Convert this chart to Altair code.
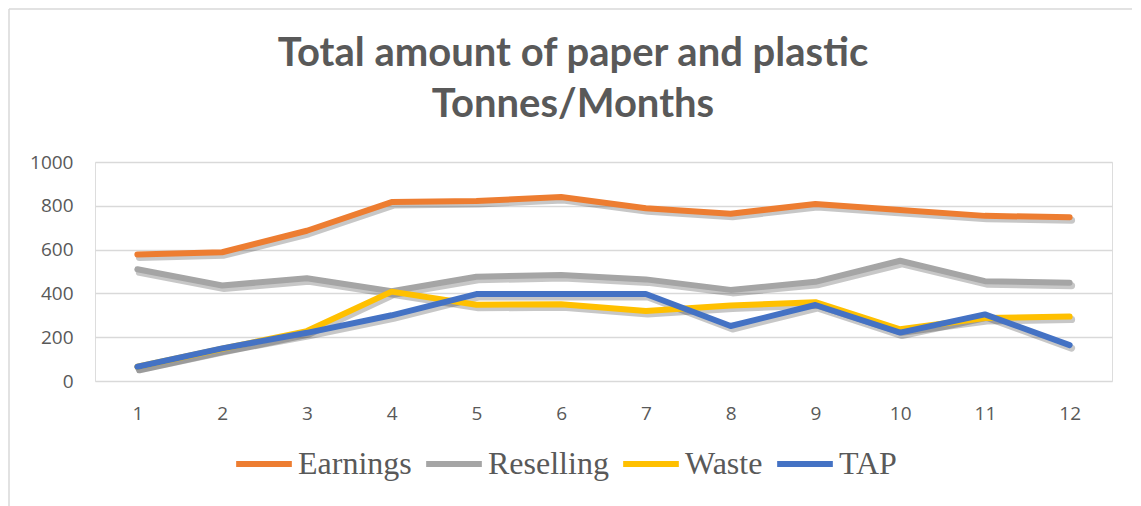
import altair as alt
import pandas as pd

months = [1, 2, 3, 4, 5, 6, 7, 8, 9, 10, 11, 12]
earnings = [578, 588, 686, 817, 822, 840, 789, 764, 808, 781, 754, 748]
reselling = [510, 436, 469, 410, 476, 484, 464, 416, 453, 549, 456, 449]
waste = [65, 147, 228, 408, 348, 350, 320, 345, 360, 236, 288, 294]
tap = [65, 149, 220, 300, 397, 397, 397, 251, 347, 221, 304, 164]

series = ["Earnings", "Reselling", "Waste", "TAP"]
colors = ["#ED7D31", "#A5A5A5", "#FFC000", "#4472C4"]
title_lines = ["Total amount of paper and plastic", "Tonnes/Months"]

rows = []
for name, vals in zip(series, [earnings, reselling, waste, tap]):
    for m, v in zip(months, vals):
        rows.append({"Month": m, "Value": v, "Series": name, "order": series.index(name)})
df = pd.DataFrame(rows)

W, H = 1017, 219

x_enc = alt.X("Month:O", title=None,
              axis=alt.Axis(labelAngle=0, ticks=False, domain=False, grid=False,
                            labelFontSize=19, labelColor="#595959", labelFont="Open Sans",
                            labelPadding=23))
y_enc = alt.Y("Value:Q", title=None,
              scale=alt.Scale(domain=[0, 1000], nice=False),
              axis=alt.Axis(values=[0, 200, 400, 600, 800, 1000], format="d",
                            ticks=False, domain=False,
                            gridColor="#D9D9D9", gridWidth=1.5,
                            labelFontSize=19, labelColor="#595959", labelFont="Open Sans",
                            labelPadding=22))

shadow = alt.Chart(df).mark_line(strokeWidth=7, color="black", opacity=0.22,
                                  xOffset=2, yOffset=3, strokeCap="round",
                                  strokeJoin="round").encode(
    x=x_enc, y=y_enc, detail="Series:N"
)

lines = alt.Chart(df).mark_line(strokeWidth=6, strokeCap="round", strokeJoin="round").encode(
    x=x_enc,
    y=y_enc,
    color=alt.Color("Series:N", sort=series,
                    scale=alt.Scale(domain=series, range=colors),
                    legend=alt.Legend(title=None, orient="none", direction="horizontal",
                                      legendX=138, legendY=271,
                                      symbolType="stroke", symbolSize=3100,
                                      symbolStrokeWidth=6, labelFont="Liberation Serif",
                                      labelFontSize=32, labelColor="#595959",
                                      labelOffset=3, columnPadding=2, symbolLimit=0)),
    order="order:Q",
)

one = pd.DataFrame({"a": [0]})
border_top = alt.Chart(one).mark_rule(color="#D9D9D9", strokeWidth=1.5).encode(
    x=alt.value(-86), x2=alt.value(1060), y=alt.value(-153)
)
border_left = alt.Chart(one).mark_rule(color="#D9D9D9", strokeWidth=1.5).encode(
    x=alt.value(-86), y=alt.value(-153), y2=alt.value(400)
)

title_style = dict(font="Lato", fontSize=40, fontWeight="bold", color="#595959",
                   align="center", baseline="alphabetic")
title1 = alt.Chart(one).mark_text(text=title_lines[0], **title_style).encode(
    x=alt.value(478), y=alt.value(-96)
)
title2 = alt.Chart(one).mark_text(text=title_lines[1], **title_style).encode(
    x=alt.value(478), y=alt.value(-45)
)

chart = alt.layer(border_top, border_left, title1, title2, shadow, lines).properties(
    width=W, height=H,
    autosize=alt.AutoSizeParams(type="none"),
    padding={"left": 87, "top": 154, "right": 20, "bottom": 125},
).configure_view(stroke="transparent").configure(background="white")

chart.save("out.html", embed_options={"renderer": "svg", "actions": False})
